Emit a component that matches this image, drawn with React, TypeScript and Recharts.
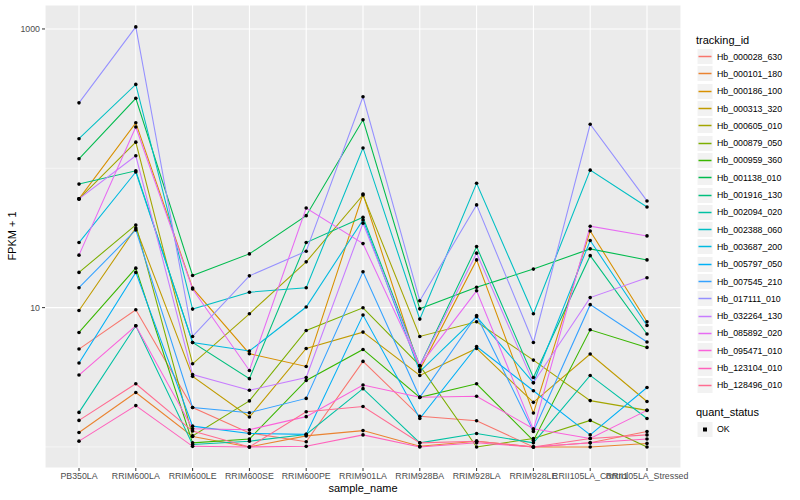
import { CartesianGrid, Line, LineChart, ReferenceLine, XAxis, YAxis } from "recharts";

// FPKM + 1 par échantillon, 20 gènes suivis, axe y en log10.
const categories = [
  "PB350LA",
  "RRIM600LA",
  "RRIM600LE",
  "RRIM600SE",
  "RRIM600PE",
  "RRIM901LA",
  "RRIM928BA",
  "RRIM928LA",
  "RRIM928LE",
  "RRII105LA_Control",
  "RRII105LA_Stressed",
];

const trackingIds = [
  "Hb_000028_630",
  "Hb_000101_180",
  "Hb_000186_100",
  "Hb_000313_320",
  "Hb_000605_010",
  "Hb_000879_050",
  "Hb_000959_360",
  "Hb_001138_010",
  "Hb_001916_130",
  "Hb_002094_020",
  "Hb_002388_060",
  "Hb_003687_200",
  "Hb_005797_050",
  "Hb_007545_210",
  "Hb_017111_010",
  "Hb_032264_130",
  "Hb_085892_020",
  "Hb_095471_010",
  "Hb_123104_010",
  "Hb_128496_010",
];

const hb000028_630 = [5.04, 9.65, 1.92, 1.26, 1.09, 4.11, 1.66, 1.54, 1.0, 1.07, 1.29];
const hb000101_180 = [1.27, 2.46, 1.19, 1.0, 1.2, 1.31, 1.01, 1.1, 1.0, 1.0, 1.06];
const hb000186_100 = [60.3, 212, 13.8, 4.67, 3.78, 65.4, 3.58, 22.0, 1.75, 35.5, 7.91];
const hb000313_320 = [9.53, 37.3, 3.21, 1.64, 5.09, 6.67, 3.26, 5.09, 2.09, 4.64, 2.12];
const hb000605_010 = [60.3, 154, 3.95, 9.03, 21.3, 64.4, 6.21, 7.91, 4.2, 2.15, 1.83];
const hb000879_050 = [17.9, 39.2, 1.2, 2.14, 6.85, 9.97, 3.83, 1.0, 1.15, 1.55, 1.0];
const hb000959_360 = [6.63, 19.2, 1.07, 1.14, 3.0, 5.01, 2.27, 2.84, 1.11, 6.93, 5.18];
const hb001138_010 = [117, 318, 17.0, 24.3, 45.7, 223, 9.8, 14.0, 18.9, 26.4, 22.0];
const hb001916_130 = [77, 96, 5.62, 3.09, 29.3, 44.5, 3.83, 27.4, 3.15, 23.6, 6.46];
const hb002094_020 = [1.77, 7.41, 1.04, 1.1, 1.23, 2.62, 1.07, 1.25, 1.07, 3.26, 1.6];
const hb002388_060 = [163, 400, 9.76, 12.9, 13.9, 140, 8.27, 78, 9.03, 97, 52.8];
const hb003687_200 = [29.3, 94, 5.62, 4.88, 10.1, 42.6, 3.47, 8.59, 2.89, 30.3, 7.45];
const hb005797_050 = [4.0, 17.9, 1.41, 1.25, 1.23, 8.84, 1.6, 5.26, 2.53, 1.22, 2.67];
const hb007545_210 = [13.9, 36.1, 1.92, 1.76, 2.23, 18.1, 2.27, 8.78, 1.29, 10.5, 5.66];
const hb017111_010 = [295, 1035, 6.21, 16.9, 25.4, 326, 11.2, 54.6, 5.62, 207, 58.3];
const hb032264_130 = [60.3, 123, 3.31, 2.55, 3.15, 40.3, 3.83, 24.6, 2.89, 11.8, 16.4];
const hb085892_020 = [23.8, 198, 13.6, 3.54, 51.9, 28.8, 3.83, 13.2, 1.33, 38.4, 32.7];
const hb095471_010 = [3.28, 7.41, 1.35, 1.33, 1.65, 2.78, 2.27, 2.31, 1.35, 1.15, 1.83];
const hb123104_010 = [1.1, 1.98, 1.01, 1.0, 1.01, 1.22, 1.0, 1.07, 1.0, 1.07, 1.14];
const hb128496_010 = [1.55, 2.84, 1.3, 1.0, 1.79, 1.95, 1.07, 1.1, 1.0, 1.15, 1.22];

const seriesValues = [
  hb000028_630, hb000101_180, hb000186_100, hb000313_320, hb000605_010,
  hb000879_050, hb000959_360, hb001138_010, hb001916_130, hb002094_020,
  hb002388_060, hb003687_200, hb005797_050, hb007545_210, hb017111_010,
  hb032264_130, hb085892_020, hb095471_010, hb123104_010, hb128496_010,
];

// palette hue par défaut de ggplot2 pour 20 niveaux
const palette = [
  "#F8766D", "#EA8331", "#D89000", "#C09B00", "#A3A500",
  "#7CAE00", "#39B600", "#00BB4E", "#00BF7D", "#00C1A3",
  "#00BFC4", "#00BAE0", "#00B0F6", "#35A2FF", "#9590FF",
  "#C77CFF", "#E76BF3", "#FA62DB", "#FF62BC", "#FF6C91",
];

const yTicks = [10, 1000];
const yMinorTicks = [1, 100];

const data = categories.map((sample, i) => {
  const row: Record<string, string | number> = { sample_name: sample };
  trackingIds.forEach((id, s) => {
    row[id] = seriesValues[s][i];
  });
  return row;
});

const FONT = '"Liberation Sans", Arial, Helvetica, sans-serif';
const tickStyle = { fontSize: 8.8, fill: "#4D4D4D", fontFamily: FONT };

function LegendPanel() {
  return (
    <div style={{ position: "absolute", left: 696, top: 0, fontFamily: FONT }}>
      <div style={{ position: "absolute", top: 33, left: 0, fontSize: 11, lineHeight: "14px", whiteSpace: "nowrap" }}>
        tracking_id
      </div>
      {trackingIds.map((id, i) => (
        <div
          key={id}
          style={{ position: "absolute", top: 48 + i * 17.3, left: 1, height: 17.3, display: "flex", alignItems: "center" }}
        >
          <svg width={16} height={17} style={{ display: "block" }}>
            <rect x={0} y={0.5} width={16} height={16} fill="#F2F2F2" stroke="#FFFFFF" />
            <line x1={1.5} x2={14.5} y1={8.5} y2={8.5} stroke={palette[i]} strokeWidth={1.5} />
          </svg>
          <span style={{ marginLeft: 4, fontSize: 8.8, whiteSpace: "nowrap" }}>{id}</span>
        </div>
      ))}
      <div style={{ position: "absolute", top: 405, left: 0, fontSize: 11, lineHeight: "14px", whiteSpace: "nowrap" }}>
        quant_status
      </div>
      <div style={{ position: "absolute", top: 420.5, left: 1, height: 17.3, display: "flex", alignItems: "center" }}>
        <svg width={16} height={17} style={{ display: "block" }}>
          <rect x={0} y={0.5} width={16} height={16} fill="#F2F2F2" stroke="#FFFFFF" />
          <rect x={6} y={6.5} width={4} height={4} fill="#000000" />
        </svg>
        <span style={{ marginLeft: 4, fontSize: 8.8 }}>OK</span>
      </div>
    </div>
  );
}

export default function App() {
  return (
    <div style={{ position: "absolute", left: 0, top: 0, width: 800, height: 500, background: "#FFFFFF", fontFamily: FONT }}>
      <LineChart width={690} height={500} data={data} margin={{ top: 5, right: 9, left: 0, bottom: 0 }}>
        <CartesianGrid fill="#EBEBEB" stroke="#FFFFFF" strokeWidth={1.07} />
        {yMinorTicks.map((v) => (
          <ReferenceLine key={v} y={v} stroke="#FFFFFF" strokeWidth={0.53} ifOverflow="hidden" />
        ))}
        <XAxis
          dataKey="sample_name"
          height={32}
          interval={0}
          padding={{ left: 34, right: 34 }}
          axisLine={false}
          tickLine={{ stroke: "#333333" }}
          tickSize={3}
          tickMargin={2}
          tick={tickStyle}
        />
        <YAxis
          width={45}
          scale="log"
          domain={[0.706, 1486]}
          allowDataOverflow
          ticks={yTicks}
          tickFormatter={(v: number) => String(v)}
          axisLine={false}
          tickLine={{ stroke: "#333333" }}
          tickSize={3}
          tickMargin={2}
          tick={tickStyle}
        />
        {trackingIds.map((id, s) => (
          <Line
            key={id}
            type="linear"
            dataKey={id}
            stroke={palette[s]}
            strokeWidth={1.07}
            dot={false}
            activeDot={false}
            isAnimationActive={false}
          />
        ))}
        {/* points par-dessus toutes les lignes, comme geom_point après geom_line */}
        {trackingIds.map((id) => (
          <Line
            key={id + "-pt"}
            type="linear"
            dataKey={id}
            stroke="none"
            dot={{ r: 1.8, fill: "#000000", stroke: "none" }}
            activeDot={false}
            legendType="none"
            isAnimationActive={false}
          />
        ))}
      </LineChart>
      <div
        style={{
          position: "absolute",
          left: -38,
          top: 229,
          width: 100,
          height: 14,
          lineHeight: "14px",
          fontSize: 11,
          textAlign: "center",
          transform: "rotate(-90deg)",
          whiteSpace: "nowrap",
        }}
      >
        FPKM + 1
      </div>
      <div
        style={{
          position: "absolute",
          left: 263,
          top: 481,
          width: 200,
          lineHeight: "14px",
          fontSize: 11,
          textAlign: "center",
        }}
      >
        sample_name
      </div>
      <LegendPanel />
    </div>
  );
}
